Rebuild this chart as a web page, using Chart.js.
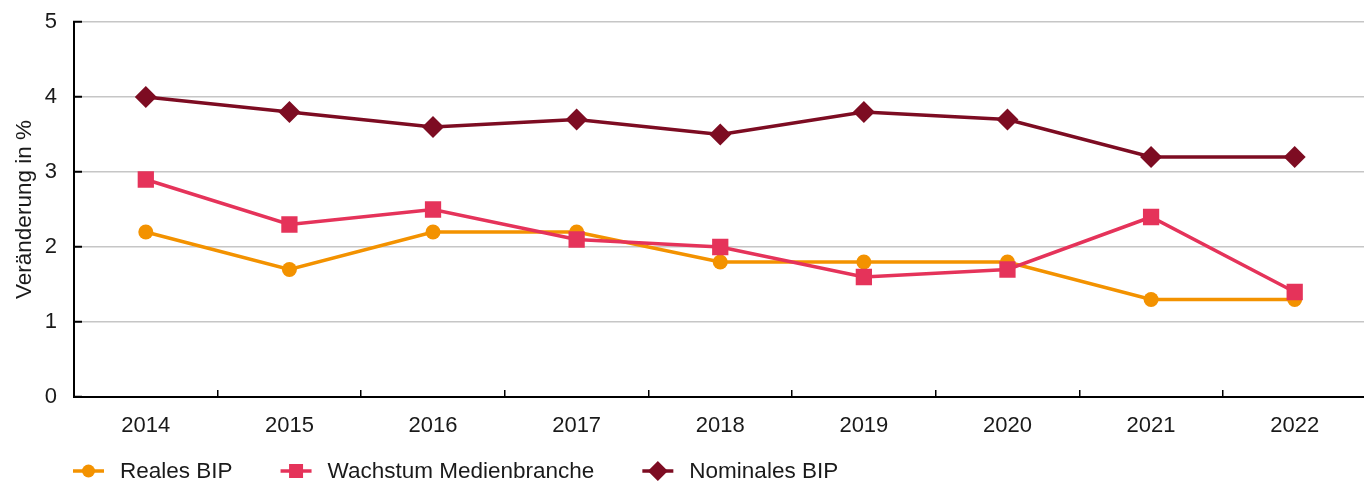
<!DOCTYPE html>
<html>
<head>
<meta charset="utf-8">
<script src="https://cdn.jsdelivr.net/npm/chart.js@4"></script>
<style>
  html, body { margin: 0; padding: 0; overflow: hidden; background: #fff; }
  #wrap { position: relative; width: 1378px; height: 483px; }
</style>
</head>
<body>
<div id="wrap"><canvas id="myChart"></canvas></div>
<script>
const years = ['2014', '2015', '2016', '2017', '2018', '2019', '2020', '2021', '2022'];
const realesBip = [2.2, 1.7, 2.2, 2.2, 1.8, 1.8, 1.8, 1.3, 1.3];
const wachstumMedien = [2.9, 2.3, 2.5, 2.1, 2.0, 1.6, 1.7, 2.4, 1.4];
const nominalesBip = [4.0, 3.8, 3.6, 3.7, 3.5, 3.8, 3.7, 3.2, 3.2];
const yTitle = 'Veränderung in %';

const FONT = '"Liberation Sans", Arial, sans-serif';
const TEXT = '#1a1a1a';

const ORANGE = '#f39200';
const PINK = '#e5335a';
const DARKRED = '#7d0c22';

function makeSet(label, data, color, style, radius, order) {
  return {
    label: label,
    data: data,
    borderColor: color,
    backgroundColor: color,
    borderWidth: 3.5,
    tension: 0,
    pointStyle: style,
    pointRadius: radius,
    pointBackgroundColor: color,
    pointBorderColor: color,
    pointBorderWidth: 0,
    order: order
  };
}

// legend drawn by hand: line with marker, then text
const lineLegend = {
  id: 'lineLegend',
  afterDraw(chart) {
    const { ctx } = chart;
    ctx.save();
    ctx.font = '22.5px ' + FONT;
    ctx.textBaseline = 'middle';
    let x = 73;
    const y = 471;
    chart.data.datasets.forEach(ds => {
      ctx.strokeStyle = ds.borderColor;
      ctx.fillStyle = ds.borderColor;
      ctx.lineWidth = 3.5;
      ctx.beginPath();
      ctx.moveTo(x, y);
      ctx.lineTo(x + 31, y);
      ctx.stroke();
      const cx = x + 15.5;
      ctx.beginPath();
      if (ds.pointStyle === 'circle') {
        ctx.arc(cx, y, 6.5, 0, Math.PI * 2);
      } else if (ds.pointStyle === 'rect') {
        ctx.rect(cx - 7, y - 7, 14, 14);
      } else {
        ctx.moveTo(cx - 10, y);
        ctx.lineTo(cx, y - 10);
        ctx.lineTo(cx + 10, y);
        ctx.lineTo(cx, y + 10);
        ctx.closePath();
      }
      ctx.fill();
      ctx.fillStyle = TEXT;
      ctx.fillText(ds.label, x + 47, y + 1);
      x += 47 + ctx.measureText(ds.label).width + 48;
    });
    ctx.restore();
  }
};

const ctx = document.getElementById('myChart');

const config = {
  type: 'line',
  data: {
    labels: years,
    datasets: [
      makeSet('Reales BIP', realesBip, ORANGE, 'circle', 7.5, 3),
      makeSet('Wachstum Medienbranche', wachstumMedien, PINK, 'rect', 11.5, 2),
      makeSet('Nominales BIP', nominalesBip, DARKRED, 'rectRot', 11, 1)
    ]
  },
  options: {
    responsive: true,
    maintainAspectRatio: false,
    animation: false,
    layout: { padding: { top: 22, left: 0, right: 0, bottom: 0 } },
    plugins: {
      legend: { display: false },
      tooltip: { enabled: false }
    },
    scales: {
      x: {
        offset: true,
        afterFit(scale) { scale.height = 86; },
        grid: {
          offset: true,
          drawOnChartArea: false,
          drawTicks: true,
          tickLength: -7,
          color: '#000',
          lineWidth: 1.5
        },
        border: { color: '#000', width: 2 },
        ticks: {
          color: TEXT,
          font: { size: 22, family: FONT },
          padding: 23,
          maxRotation: 0
        }
      },
      y: {
        min: 0,
        max: 5,
        afterFit(scale) {
          scale.width = 74;
          // labels sit in the layout padding, don't push the chart area down
          scale.paddingTop = 0;
          scale.paddingBottom = 0;
        },
        grid: {
          color: '#c6c6c6',
          lineWidth: 1.5,
          drawTicks: true,
          tickLength: -8,
          tickColor: '#000',
          tickWidth: 2
        },
        border: { color: '#000', width: 2 },
        ticks: {
          stepSize: 1,
          color: TEXT,
          font: { size: 22, family: FONT },
          padding: 25
        },
        title: {
          display: true,
          text: yTitle,
          color: TEXT,
          font: { size: 22.5, family: FONT },
          padding: { top: 11, bottom: 0 }
        }
      }
    }
  },
  plugins: [lineLegend]
};

const myChart = new Chart(ctx, config);
</script>
</body>
</html>
